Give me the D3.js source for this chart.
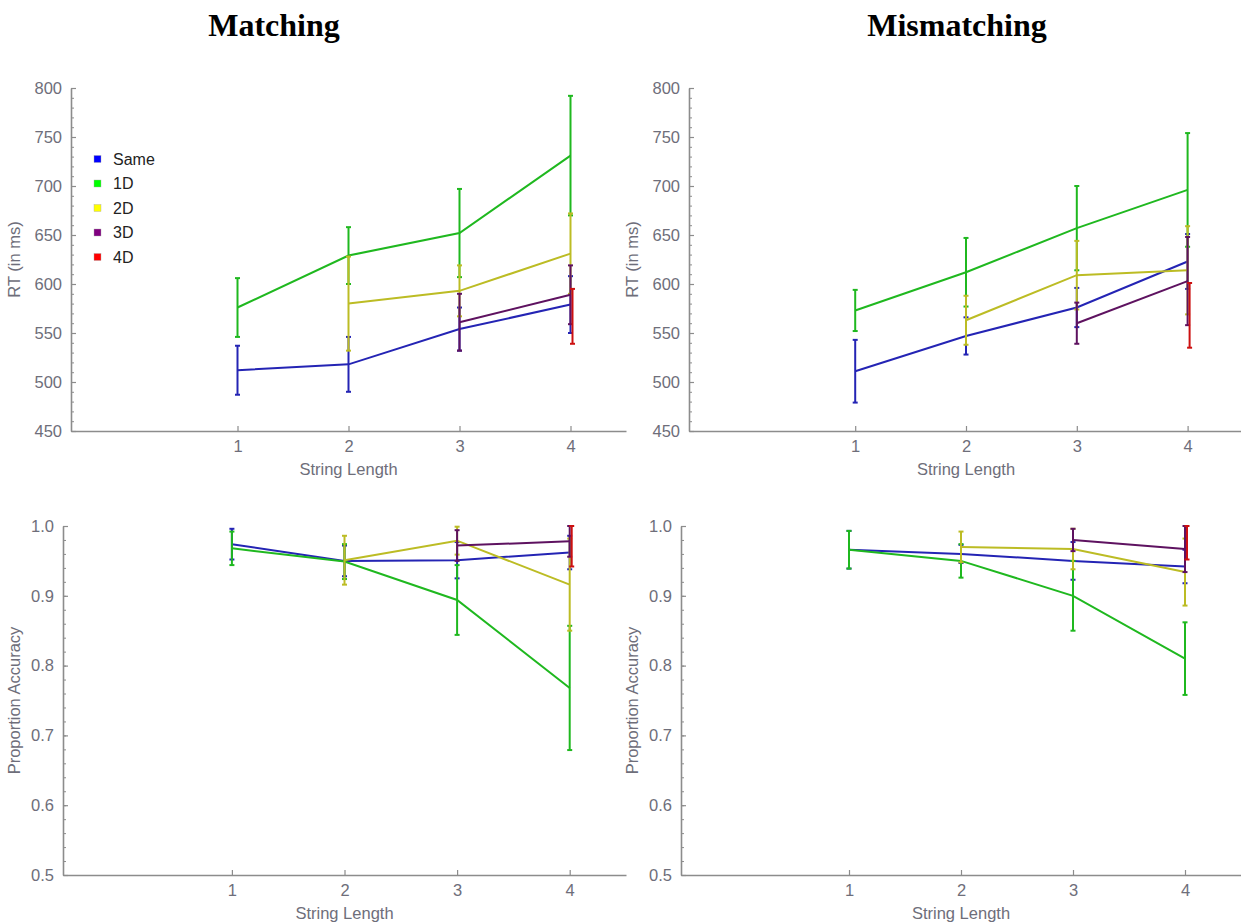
<!DOCTYPE html>
<html>
<head>
<meta charset="utf-8">
<script src="https://cdn.jsdelivr.net/npm/d3@7"></script>
<style>
  body { margin: 0; background: #fff; }
  text { font-family: "Liberation Sans", Arial, sans-serif; }
</style>
</head>
<body>
<svg id="chart" width="1241" height="924"></svg>
<script>
var lengths = [1, 2, 3, 4];
var seriesNames = ["Same", "1D", "2D", "3D", "4D"];

// RT (ms), matching trials: [length, mean, error]
var rtMatchSame = [[1, 512, 25], [2, 518, 28], [3, 554, 22], [4, 579, 29]];
var rtMatch1D   = [[1, 576, 30], [2, 629, 29], [3, 652, 45], [4, 731, 61]];
var rtMatch2D   = [[2, 580, 48], [3, 593, 26], [4, 631, 41]];
var rtMatch3D   = [[3, 561, 29], [4, 589, 30]];
var rtMatch4D   = [[4, 567, 28]];

// RT (ms), mismatching trials
var rtMis_Same = [[1, 511, 32], [2, 547, 19], [3, 576, 20], [4, 623, 28]];
var rtMis_1D   = [[1, 573, 21], [2, 612, 35], [3, 657, 43], [4, 696, 58]];
var rtMis_2D   = [[2, 563, 25], [3, 609, 35], [4, 614, 45]];
var rtMis_3D   = [[3, 560, 21], [4, 603, 45]];
var rtMis_4D   = [[4, 568, 33]];

// proportion accuracy, matching
var accMatchSame = [[1, 0.974, 0.022], [2, 0.950, 0.022], [3, 0.951, 0.026], [4, 0.962, 0.024]];
var accMatch1D   = [[1, 0.968, 0.024], [2, 0.949, 0.025], [3, 0.894, 0.050], [4, 0.768, 0.089]];
var accMatch2D   = [[2, 0.951, 0.035], [3, 0.979, 0.020], [4, 0.916, 0.066]];
var accMatch3D   = [[3, 0.972, 0.022], [4, 0.978, 0.022]];
var accMatch4D   = [[4, 0.971, 0.029]];

// proportion accuracy, mismatching
var accMis_Same = [[1, 0.966, 0.027], [2, 0.960, 0.013], [3, 0.950, 0.027], [4, 0.942, 0.024]];
var accMis_1D   = [[1, 0.966, 0.027], [2, 0.950, 0.024], [3, 0.900, 0.050], [4, 0.810, 0.052]];
var accMis_2D   = [[2, 0.970, 0.022], [3, 0.967, 0.029], [4, 0.934, 0.048]];
var accMis_3D   = [[3, 0.980, 0.016], [4, 0.967, 0.033]];
var accMis_4D   = [[4, 0.976, 0.024]];

var rtTicks = [450, 500, 550, 600, 650, 700, 750, 800];
var accTicks = [0.5, 0.6, 0.7, 0.8, 0.9, 1.0];

var lineColors = ["#2424b4", "#1fb81f", "#bcbc24", "#5e1260", "#cc1010"];
var keyColors  = ["#0000ff", "#00ff00", "#ffff00", "#800080", "#ff0000"];

var svg = d3.select("#chart");
var axisColor = "#8c8c8c", labelColor = "#6e6e7a";

svg.append("text").attr("x", 274).attr("y", 36).attr("text-anchor", "middle")
    .style("font-family", "'Liberation Serif', 'Times New Roman', serif")
    .style("font-weight", "bold").style("font-size", "32px").text("Matching");
svg.append("text").attr("x", 957).attr("y", 36).attr("text-anchor", "middle")
    .style("font-family", "'Liberation Serif', 'Times New Roman', serif")
    .style("font-weight", "bold").style("font-size", "32px").text("Mismatching");

function drawPanel(p) {
    var x = d3.scaleLinear().domain([-0.5, 4.5]).range([p.left, p.right]);
    var y = d3.scaleLinear().domain(p.domain).range([p.bottom, p.top]);
    var g = svg.append("g");

    var clipId = "clip" + p.id;
    svg.append("clipPath").attr("id", clipId).append("rect")
        .attr("x", p.left).attr("y", p.top - 1)
        .attr("width", p.right - p.left).attr("height", p.bottom - p.top + 1);

    // minor y ticks
    var minor = d3.range(p.domain[0], p.domain[1] + p.minorStep / 2, p.minorStep);
    g.append("g").attr("transform", "translate(" + p.left + ",0)")
        .call(d3.axisRight(y).tickValues(minor).tickSize(3).tickFormat(""))
        .call(function(a) {
            a.select(".domain").remove();
            a.selectAll("line").attr("stroke", axisColor);
        });

    var yAxis = g.append("g").attr("transform", "translate(" + p.left + ",0)")
        .call(d3.axisLeft(y).tickValues(p.ticks).tickSizeInner(-5).tickSizeOuter(0)
            .tickPadding(9).tickFormat(p.format));
    yAxis.select(".domain").attr("stroke", axisColor).attr("stroke-width", 1.6);
    yAxis.selectAll("line").attr("stroke", axisColor).attr("stroke-width", 1.2);
    yAxis.selectAll("text").style("font-size", "16.5px").attr("fill", labelColor);

    var xAxis = g.append("g").attr("transform", "translate(0," + p.bottom + ")")
        .call(d3.axisBottom(x).tickValues(lengths).tickSizeInner(-5).tickSizeOuter(0)
            .tickPadding(9).tickFormat(d3.format("d")));
    xAxis.select(".domain").attr("stroke", axisColor).attr("stroke-width", 1.6);
    xAxis.selectAll("line").attr("stroke", axisColor).attr("stroke-width", 1.2);
    xAxis.selectAll("text").style("font-size", "16.5px").attr("fill", labelColor);

    g.append("text").attr("x", x(2)).attr("y", p.bottom + 44).attr("text-anchor", "middle")
        .style("font-size", "16.5px").attr("fill", labelColor).text("String Length");
    g.append("text").attr("transform", "translate(" + (p.left - p.labelGap) + "," + ((p.top + p.bottom) / 2) + ") rotate(-90)")
        .attr("text-anchor", "middle").style("font-size", "16.5px").attr("fill", labelColor)
        .text(p.ylabel);

    var plot = g.append("g").attr("clip-path", "url(#" + clipId + ")");
    var line = d3.line().x(function(d) { return x(d[0]); }).y(function(d) { return y(d[1]); });

    p.series.forEach(function(s, i) {
        var col = lineColors[i];
        var dx = i === 4 ? 2 : 0;
        var sg = plot.append("g");
        if (s.length > 1) {
            sg.append("path").datum(s).attr("d", line)
                .attr("fill", "none").attr("stroke", col).attr("stroke-width", 2);
        }
        s.forEach(function(d) {
            var cx = x(d[0]) + dx;
            sg.append("line").attr("x1", cx).attr("x2", cx)
                .attr("y1", y(d[1] - d[2])).attr("y2", y(d[1] + d[2]))
                .attr("stroke", col).attr("stroke-width", 2);
            [d[1] - d[2], d[1] + d[2]].forEach(function(v) {
                sg.append("line").attr("x1", cx - 2.5).attr("x2", cx + 2.5)
                    .attr("y1", y(v)).attr("y2", y(v))
                    .attr("stroke", col).attr("stroke-width", 2);
            });
        });
    });
}

drawPanel({id: "a", left: 71, right: 626, top: 88, bottom: 431, domain: [450, 800],
    ticks: rtTicks, minorStep: 10, format: d3.format("d"), ylabel: "RT (in ms)", labelGap: 51,
    series: [rtMatchSame, rtMatch1D, rtMatch2D, rtMatch3D, rtMatch4D]});
drawPanel({id: "b", left: 689, right: 1243, top: 88, bottom: 431, domain: [450, 800],
    ticks: rtTicks, minorStep: 10, format: d3.format("d"), ylabel: "RT (in ms)", labelGap: 51,
    series: [rtMis_Same, rtMis_1D, rtMis_2D, rtMis_3D, rtMis_4D]});
drawPanel({id: "c", left: 63, right: 626, top: 526, bottom: 875, domain: [0.5, 1.0],
    ticks: accTicks, minorStep: 0.02, format: d3.format(".1f"), ylabel: "Proportion Accuracy", labelGap: 43,
    series: [accMatchSame, accMatch1D, accMatch2D, accMatch3D, accMatch4D]});
drawPanel({id: "d", left: 681, right: 1241, top: 526, bottom: 875, domain: [0.5, 1.0],
    ticks: accTicks, minorStep: 0.02, format: d3.format(".1f"), ylabel: "Proportion Accuracy", labelGap: 43,
    series: [accMis_Same, accMis_1D, accMis_2D, accMis_3D, accMis_4D]});

// legend in the top-left panel
var legend = svg.append("g").attr("transform", "translate(94,159)");
seriesNames.forEach(function(name, i) {
    var row = legend.append("g").attr("transform", "translate(0," + (i * 24.5) + ")");
    row.append("rect").attr("x", 0).attr("y", -3.5).attr("width", 7).attr("height", 7)
        .attr("fill", keyColors[i]).attr("stroke", "#aaa").attr("stroke-width", 0.4);
    row.append("text").attr("x", 19).attr("y", 0).attr("dy", "0.35em")
        .style("font-size", "16px").attr("fill", "#222").text(name);
});
</script>
</body>
</html>
